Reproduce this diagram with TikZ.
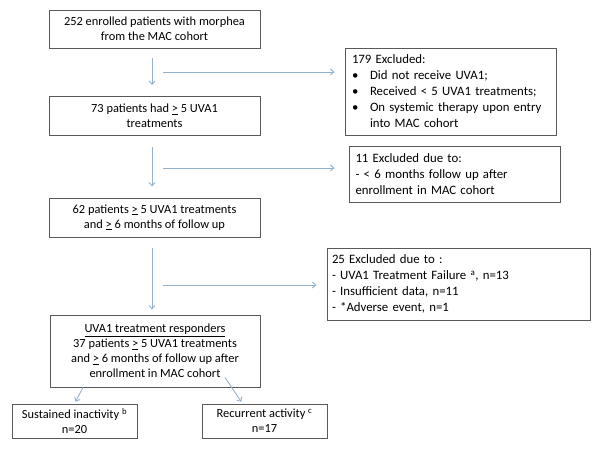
\documentclass[tikz,border=0pt]{standalone}
\usepackage{fontspec}
\setmainfont{Carlito}
\usetikzlibrary{arrows.meta}

\definecolor{boxlinecolor}{rgb}{0.35,0.35,0.35}
\definecolor{arrowlinecolor}{rgb}{0.58,0.70,0.80}

\begin{document}
\begin{tikzpicture}[x=1pt,y=-1pt,
  flowbox/.style={draw=boxlinecolor,line width=0.9pt,inner sep=0pt,
    minimum height=#1,align=center,font=\fontsize{12.4}{15}\selectfont},
  exclbox/.style={draw=boxlinecolor,line width=0.9pt,inner ysep=0pt,
    align=left,font=\fontsize{12.8}{16}\selectfont},
  flowarrow/.style={draw=arrowlinecolor,line width=0.9pt,
    -{Straight Barb[length=3.5pt,width=6pt]}}]
\useasboundingbox (0,0) rectangle (602,451);
% main column
\node[flowbox=38pt,minimum width=211pt] (enrolled) at (154.5,29)
  {252 enrolled patients with morphea\\from the MAC cohort};
\node[flowbox=39pt,minimum width=211pt] (had5) at (154.5,116)
  {73 patients had \underline{>} 5 UVA1\\treatments};
\node[flowbox=39pt,minimum width=211pt] (follow) at (154.5,217.5)
  {62 patients \underline{>} 5 UVA1 treatments\\and \underline{>} 6 months of follow up};
\node[flowbox=72pt,minimum width=210pt] (responders) at (155,351)
  {\underline{UVA1 treatment responders}\\37 patients \underline{>} 5 UVA1 treatments\\
   and \underline{>} 6 months of follow up after\\enrollment in MAC cohort};
\node[flowbox=34pt,minimum width=125pt] (inactive) at (74.5,421)
  {Sustained inactivity \textsuperscript{b}\\n=20};
\node[flowbox=34pt,minimum width=125pt] (recurrent) at (264.5,421)
  {Recurrent activity \textsuperscript{c}\\n=17};
% excluded boxes
\node[exclbox,minimum width=211pt,minimum height=87pt,text width=197pt,inner xsep=7pt]
  (excl179) at (450.5,91.5)
  {179 Excluded:\\
   \makebox[18pt][l]{\textbullet}Did not receive UVA1;\\
   \makebox[18pt][l]{\textbullet}Received < 5 UVA1 treatments;\\
   \makebox[18pt][l]{\textbullet}On systemic therapy upon entry\\
   \hspace*{18pt}into MAC cohort};
\node[exclbox,minimum width=211pt,minimum height=56pt,text width=198pt,inner xsep=6.5pt]
  (excl11) at (454.5,174)
  {11 Excluded due to:\\
   - < 6 months follow up after\\
   enrollment in MAC cohort};
\node[exclbox,minimum width=263pt,minimum height=72pt,text width=253pt,inner xsep=5pt]
  (excl25) at (458.5,284)
  {25 Excluded due to :\\
   - UVA1 Treatment Failure \textsuperscript{a}, n=13\\
   - Insufficient data, n=11\\
   - *Adverse event, n=1};
% side branches
\coordinate (side1) at (163,72);
\coordinate (side2) at (163,168);
\coordinate (side3) at (163,285);
% connectors
\draw[flowarrow,shorten <=10pt,shorten >=11pt] ([xshift=-2.5pt]enrolled.south) -- ([xshift=-2.5pt]had5.north);
\draw[flowarrow,shorten <=11pt,shorten >=11pt] ([xshift=-2.5pt]had5.south) -- ([xshift=-2.5pt]follow.north);
\draw[flowarrow,shorten <=11pt,shorten >=5pt] ([xshift=-2.5pt]follow.south) -- ([xshift=-3pt]responders.north);
\draw[flowarrow,shorten >=10pt] (side1) -- (side1 -| excl179.west);
\draw[flowarrow,shorten >=14pt] (side2) -- (side2 -| excl11.west);
\draw[flowarrow,shorten >=10pt] (side3) -- (side3 -| excl25.west);
\draw[flowarrow,shorten >=2pt] ([xshift=-72pt]responders.south) -- (inactive.north);
\draw[flowarrow,shorten >=2pt] ([xshift=70pt,yshift=10pt]responders.south) -- ([xshift=-22pt]recurrent.north);
\end{tikzpicture}
\end{document}
